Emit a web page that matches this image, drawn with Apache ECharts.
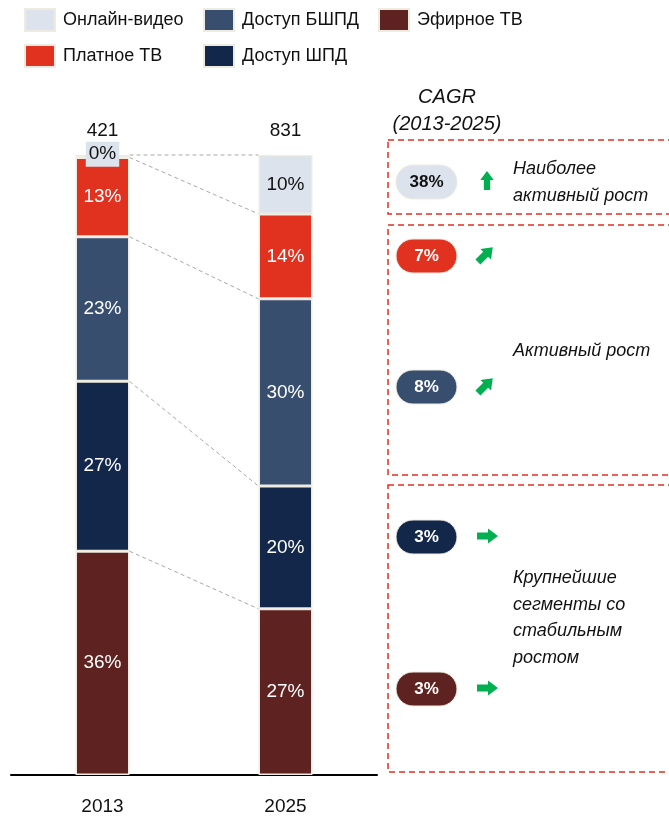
<!DOCTYPE html>
<html><head><meta charset="utf-8">
<script src="https://cdn.jsdelivr.net/npm/echarts@6/dist/echarts.min.js"></script>
<style>html,body{margin:0;padding:0;background:#fff}#c{width:669px;height:817px}</style>
</head><body><div id="c"></div>
<script>
var years = ['2013', '2025'];
var totals = [421, 831];
var seriesNames = ['Эфирное ТВ', 'Доступ ШПД', 'Доступ БШПД', 'Платное ТВ', 'Онлайн-видео'];
var efirTV = [36.1, 26.8];
var shpd = [27.4, 19.8];
var bshpd = [23.3, 30.2];
var paidTV = [12.8, 13.7];
var onlineVideo = [0.4, 9.5];
var cagrLabels = ['38%', '7%', '8%', '3%', '3%'];
var cagrNames = ['Онлайн-видео', 'Платное ТВ', 'Доступ БШПД', 'Доступ ШПД', 'Эфирное ТВ'];

var colors = {'Эфирное ТВ':'#5E2320','Доступ ШПД':'#13274A','Доступ БШПД':'#374E6E','Платное ТВ':'#E1311F','Онлайн-видео':'#DCE3ED'};
var FONT = "'Liberation Sans',Arial,sans-serif";
var BARW = 54;

var values = [efirTV, shpd, bshpd, paidTV, onlineVideo];
var cum = [[0,0],[0,0],[0,0],[0,0],[0,0]];
for (var k=0;k<2;k++){var s=0;for(var i=0;i<values.length;i++){s+=values[i][k];cum[i][k]=s;}}
var connectorData = [];
for (var i=values.length-1;i>=0;i--){ connectorData.push([0, cum[i][0], cum[i][1]]); }

var series = values.map(function(v, i){
  var name = seriesNames[i];
  var isOnline = name === 'Онлайн-видео';
  return {
    name: name, type: 'bar', stack: 'a', barWidth: BARW,
    data: v,
    itemStyle: {color: colors[name], borderColor: '#EEEBE1', borderWidth: 1.5},
    label: {
      show: true, position: 'inside', fontFamily: FONT, fontSize: 19,
      color: isOnline ? '#111' : '#fff',
      formatter: function(p){ return Math.round(p.value) + '%'; }
    },
    emphasis: {disabled: true}
  };
});
series[4].data = onlineVideo.map(function(v, k){
  if (k === 0) return {value: v, label: {backgroundColor: '#DCE3ED', padding: [4, 3, 2, 3], offset: [0, -2]}};
  return v;
});
series.push({
  name: 'total', type: 'bar', stack: 'a', barWidth: BARW, data: [0, 0],
  itemStyle: {color: 'transparent'},
  label: {show: true, position: 'top', distance: 15, fontFamily: FONT, fontSize: 19, color: '#111',
    formatter: function(p){ return String(totals[p.dataIndex]); }},
  emphasis: {disabled: true}, silent: true
});
series.push({
  type: 'custom', silent: true, z: 1,
  data: connectorData,
  renderItem: function(params, api){
    var p0 = api.coord([0, api.value(1)]);
    var p1 = api.coord([1, api.value(2)]);
    return {type: 'line', shape: {x1: p0[0] + BARW/2, y1: p0[1], x2: p1[0] - BARW/2, y2: p1[1]},
      style: {stroke: '#A8A8A8', lineWidth: 1, lineDash: [4, 3]}};
  }
});

var pillY = [182, 256, 387, 537, 689];
var pillColors = ['#DCE3ED', '#E1311F', '#374E6E', '#13274A', '#5E2320'];
var graphics = [];
function box(y0, y1){
  graphics.push({type:'rect', shape:{x:388, y:y0, width:300, height:y1-y0},
    style:{fill:'none', stroke:'#E1311F', lineWidth:1.5, lineDash:[6,4]}});
}
box(140, 214); box(225, 475); box(485, 772);
var arrowPts = [[-10,-3.5],[1,-3.5],[1,-7.5],[11,0],[1,7.5],[1,3.5],[-10,3.5]];
var arrowRot = [Math.PI/2, Math.PI/4, Math.PI/4, 0, 0];
var arrowScale = [0.9, 1.0, 1.0, 1.0, 1.0];
var arrowDX = [487, 485, 485, 487, 487];
for (var i=0;i<5;i++){
  graphics.push({type:'rect', shape:{x:396, y:pillY[i]-17, width:61, height:34, r:17},
    style:{fill:pillColors[i], stroke:'#EEEBE1', lineWidth:1}});
  graphics.push({type:'text', x:426.5, y:pillY[i],
    style:{text:cagrLabels[i], font:'bold 17px ' + FONT,
      fill: i===0 ? '#111' : '#fff', textAlign:'center', textVerticalAlign:'middle'}});
  graphics.push({type:'polygon', x:arrowDX[i], y:pillY[i] - 1, rotation: arrowRot[i], scaleX: arrowScale[i], scaleY: arrowScale[i],
    shape:{points: arrowPts}, style:{fill:'#00B050'}});
}
var itFont = "italic 18px " + FONT;
graphics.push({type:'text', x:447, y:97, style:{text:'CAGR', font:'italic 20px ' + FONT, fill:'#111', textAlign:'center', textVerticalAlign:'middle'}});
graphics.push({type:'text', x:447, y:124, style:{text:'(2013-2025)', font:'italic 20px ' + FONT, fill:'#111', textAlign:'center', textVerticalAlign:'middle'}});
graphics.push({type:'text', x:513, y:155, style:{text:'Наиболее\nактивный рост', font:itFont, lineHeight:27, fill:'#111', textAlign:'left', textVerticalAlign:'top'}});
graphics.push({type:'text', x:513, y:351, style:{text:'Активный рост', font:itFont, fill:'#111', textAlign:'left', textVerticalAlign:'middle'}});
graphics.push({type:'text', x:513, y:565, style:{text:'Крупнейшие\nсегменты со\nстабильным\nростом', font:itFont, lineHeight:26.5, fill:'#111', textAlign:'left', textVerticalAlign:'top'}});

var legendBase = {orient:'vertical', itemWidth:30, itemHeight:22, itemGap:12, icon:'rect', selectedMode:false,
  textStyle:{fontFamily:FONT, fontSize:18, color:'#111', padding:[0,0,0,3]}};
var chart = echarts.init(document.getElementById('c'), null, {renderer:'canvas'});
chart.setOption({
  animation: false,
  backgroundColor: '#fff',
  legend: [
    Object.assign({}, legendBase, {left:19, top:3, data:['Онлайн-видео','Платное ТВ']}),
    Object.assign({}, legendBase, {left:198, top:3, data:['Доступ БШПД','Доступ ШПД']}),
    Object.assign({}, legendBase, {left:373, top:3, data:['Эфирное ТВ']})
  ],
  grid: {left:11, right:292, top:155, bottom:42},
  xAxis: {type:'category', data: years,
    axisLine:{lineStyle:{color:'#000', width:2}}, axisTick:{show:false},
    axisLabel:{fontFamily:FONT, fontSize:19, color:'#111', margin:22}},
  yAxis: {type:'value', min:0, max:100, show:false},
  series: series,
  graphic: graphics
});
</script></body></html>
